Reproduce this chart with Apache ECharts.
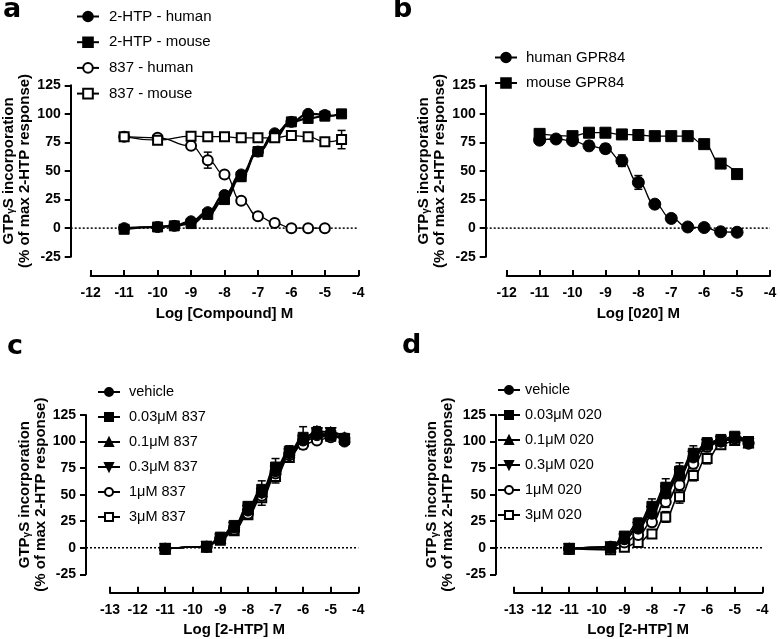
<!DOCTYPE html>
<html>
<head>
<meta charset="utf-8">
<script src="https://cdn.jsdelivr.net/npm/echarts@6/dist/echarts.min.js"></script>
<style>
  html, body { margin: 0; padding: 0; background: #fff; }
  #chart { width: 780px; height: 639px; }
</style>
</head>
<body>
<div id="chart"></div>
<script>
// ---- panel a : 2-HTP / 837 ----
const xHtp = [-11, -10, -9.5, -9, -8.5, -8, -7.5, -7, -6.5, -6, -5.5, -5, -4.5];
const htpHuman = [0, 1, 2, 6, 14, 29, 47, 67, 83, 93, 100, 99];
const htpHumanErr = [0, 0, 0, 1, 2, 3, 3, 2, 2, 1, 1, 1];
const htpMouse = [-1, 1, 2, 4, 12, 25, 45, 67, 80, 93, 96, 98, 100];
const htpMouseErr = [0, 0, 0, 1, 2, 3, 4, 2, 2, 1, 1, 1, 1];
const x837 = [-11, -10, -9, -8.5, -8, -7.5, -7, -6.5, -6, -5.5, -5, -4.5];
const h837Human = [80, 79, 72, 59.5, 47, 24, 10.5, 4.5, 0, 0, 0];
const h837HumanErr = [0, 0, 2, 7, 2, 2, 1, 1, 0, 0, 0];
const m837Mouse = [80, 77, 80.5, 80, 80, 79, 79, 79, 81, 80, 75.5, 77.5];
const m837MouseErr = [1, 1, 1, 1, 1, 1, 1, 1, 1, 1, 1, 8];

// ---- panel b : 020 ----
const xB_human = [-11, -10.5, -10, -9.5, -9, -8.5, -8, -7.5, -7, -6.5, -6, -5.5, -5];
const bHuman = [77, 78, 76.5, 72, 69.5, 59, 40, 21, 8.5, 1, 0.5, -3.2, -3.6];
const bHumanErr = [1.5, 0, 1.5, 4, 4, 5, 6, 2, 1, 0, 0, 0, 0];
const xB_mouse = [-11, -10, -9.5, -9, -8.5, -8, -7.5, -7, -6.5, -6, -5.5, -5];
const bMouse = [82.5, 80.5, 83.5, 83.5, 82, 81.5, 80.5, 80.5, 80.5, 73.5, 56.5, 47.3];
const bMouseErr = [1, 1, 1, 1, 1, 1, 1, 1, 1, 1, 1, 1];

// ---- panel c / d : 2-HTP with antagonist ----
const xHtp2 = [-11, -9.5, -9, -8.5, -8, -7.5, -7, -6.5, -6, -5.5, -5, -4.5];
const cNames = ['vehicle', '0.03μM 837', '0.1μM 837', '0.3μM 837', '1μM 837', '3μM 837'];
const cValues = [
  [-1, 1, 9, 19, 35, 52, 72, 89, 101, 106, 106, 100],
  [-1, 1, 10, 21, 39, 55, 76, 91, 104, 108, 106, 103],
  [-1, 1, 9, 20, 37, 53, 74, 90, 103, 110, 109, 104],
  [-1, 1, 8, 19, 35, 51, 72, 88, 101, 108, 108, 102],
  [-1, 1, 8, 17, 32, 49, 70, 87, 97, 101, 104, 103],
  [-1, 1, 7, 16, 31, 47, 67, 85, 100, 104, 105, 102]
];
const cErr = [
  [1, 1, 2, 3, 4, 5, 5, 4, 4, 4, 3, 3],
  [1, 1, 2, 3, 4, 8, 8, 5, 10, 5, 5, 3],
  [1, 1, 2, 3, 4, 5, 5, 4, 4, 4, 4, 3],
  [1, 1, 2, 3, 4, 5, 5, 4, 4, 4, 4, 3],
  [1, 1, 2, 3, 4, 5, 5, 4, 4, 3, 3, 3],
  [1, 1, 2, 3, 4, 7, 6, 4, 4, 4, 4, 3]
];
const dNames = ['vehicle', '0.03μM 020', '0.1μM 020', '0.3μM 020', '1μM 020', '3μM 020'];
const dValues = [
  [-1, 1, 8, 18, 32, 51, 68, 85, 97, 100, 103, 98],
  [-1, 0, 11, 23, 39, 57, 72, 89, 99, 102, 105, 100],
  [-1, 1, 9, 20, 36, 54, 70, 87, 98, 101, 104, 99],
  [-1, 0.5, 8, 19, 34, 53, 69, 86, 97, 100, 103, 98],
  [-1, 0, 5, 12, 24, 43, 59, 79, 95, 100, 103, 99],
  [-1, -2, 0.5, 5, 13, 29, 48, 68, 84, 97, 101, 100]
];
const dErr = [
  [1, 1, 2, 3, 5, 6, 6, 5, 4, 3, 3, 3],
  [1, 1, 3, 5, 7, 8, 8, 7, 4, 4, 3, 3],
  [1, 1, 2, 4, 6, 7, 7, 6, 4, 3, 3, 3],
  [1, 1, 2, 3, 5, 6, 6, 5, 4, 3, 3, 3],
  [1, 1, 2, 3, 4, 5, 5, 4, 4, 3, 3, 3],
  [1, 1, 2, 3, 4, 5, 6, 5, 5, 4, 3, 3]
];

const yTicks = { min: -25, max: 125, interval: 25 };
const xRanges = [[-12, -4], [-12, -4], [-13, -4], [-13, -4]];
const xNames = ['Log [Compound] M', 'Log [020] M', 'Log [2-HTP] M', 'Log [2-HTP] M'];

const FONT = 'Liberation Sans, Arial, sans-serif';

// panel geometry (pixels): y-axis line x, x-axis left/right ends, plot top/height
const panels = [
  { yAxisX: 70.7, xLeft: 90.7, xRight: 358.3, top: 85.3, height: 171.4, xOffset: 19.3, nameGap: 38 },
  { yAxisX: 485.7, xLeft: 506.7, xRight: 770, top: 85.3, height: 171.4, xOffset: 19.3, nameGap: 38 },
  { yAxisX: 86, xLeft: 110, xRight: 358.3, top: 415, height: 159.3, xOffset: 18.5, nameGap: 31.5 },
  { yAxisX: 496, xLeft: 514, xRight: 762.3, top: 415, height: 159.3, xOffset: 18.5, nameGap: 40 }
];

// x value at the y axis line, so the data grid can start there
const dataXMin = panels.map((p, i) => {
  const [lo, hi] = xRanges[i];
  const ppu = (p.xRight - p.xLeft) / (hi - lo);
  return lo - (p.xLeft - p.yAxisX) / ppu;
});

// symbol styles
const filledCircle = { symbol: 'circle', symbolSize: 11, itemStyle: { color: '#000', borderColor: '#000', borderWidth: 1 } };
const filledSquare = { symbol: 'rect', symbolSize: 10, itemStyle: { color: '#000', borderColor: '#000', borderWidth: 1 } };
const openCircle = { symbol: 'circle', symbolSize: 10, itemStyle: { color: '#fff', borderColor: '#000', borderWidth: 2 } };
const openSquare = { symbol: 'rect', symbolSize: 9, itemStyle: { color: '#fff', borderColor: '#000', borderWidth: 2 } };
const triUp = { symbol: 'triangle', symbolSize: 11, itemStyle: { color: '#000', borderColor: '#000', borderWidth: 1 } };
const triDown = { symbol: 'triangle', symbolSize: 11, symbolRotate: 180, itemStyle: { color: '#000', borderColor: '#000', borderWidth: 1 } };
const cdStyles = [filledCircle, filledSquare, triUp, triDown, openCircle, openSquare];

function pairs(xs, ys) {
  return ys.map((v, i) => [xs[i], v]);
}

function errData(xs, ys, errs) {
  const out = [];
  ys.forEach((v, i) => {
    if (errs[i] > 0) out.push([xs[i], v - errs[i], v + errs[i]]);
  });
  return out;
}

function errorBarItem(params, api) {
  const x = api.value(0);
  const top = api.coord([x, api.value(2)]);
  const bot = api.coord([x, api.value(1)]);
  const w = 4;
  const st = { stroke: '#000', lineWidth: 1.5 };
  return {
    type: 'group',
    children: [
      { type: 'line', shape: { x1: top[0], y1: top[1], x2: bot[0], y2: bot[1] }, style: st },
      { type: 'line', shape: { x1: top[0] - w, y1: top[1], x2: top[0] + w, y2: top[1] }, style: st },
      { type: 'line', shape: { x1: bot[0] - w, y1: bot[1], x2: bot[0] + w, y2: bot[1] }, style: st }
    ]
  };
}

function curve(name, idx, xs, ys, style, width, z) {
  return Object.assign({
    name: name,
    type: 'line',
    xAxisIndex: idx,
    yAxisIndex: idx,
    data: pairs(xs, ys),
    smooth: 0.5,
    smoothMonotone: 'x',
    lineStyle: { color: '#000', width: width },
    z: z || 3
  }, style);
}

function errSeries(idx, data) {
  return {
    type: 'custom',
    xAxisIndex: idx,
    yAxisIndex: idx,
    renderItem: errorBarItem,
    encode: { x: 0, y: [1, 2] },
    data: data,
    silent: true,
    z: 2
  };
}

// dotted zero line from the y axis to the right end
function zeroLine(idx) {
  return {
    type: 'line',
    xAxisIndex: idx,
    yAxisIndex: idx,
    data: [[dataXMin[idx], 0], [xRanges[idx][1], 0]],
    symbol: 'none',
    silent: true,
    lineStyle: { color: '#000', width: 1.5, type: [2, 2] },
    z: 1
  };
}

const axisLineStyle = { color: '#000', width: 2 };
const tickLabel = { color: '#000', fontFamily: FONT, fontWeight: 'bold', fontSize: 14 };

// grids 0-3 hold the data (start at the y axis), grids 4-7 carry the detached x axes
const grids = panels.map(p => ({
  left: p.yAxisX, top: p.top, width: p.xRight - p.yAxisX, height: p.height,
  containLabel: false, outerBoundsMode: 'none'
})).concat(panels.map(p => ({
  left: p.xLeft, top: p.top, width: p.xRight - p.xLeft, height: p.height,
  containLabel: false, outerBoundsMode: 'none'
})));

const xAxes = panels.map((p, i) => ({
  type: 'value',
  gridIndex: i,
  min: dataXMin[i],
  max: xRanges[i][1],
  show: false
})).concat(panels.map((p, i) => ({
  type: 'value',
  gridIndex: i + 4,
  min: xRanges[i][0],
  max: xRanges[i][1],
  interval: 1,
  position: 'bottom',
  offset: p.xOffset,
  axisLine: { show: true, onZero: false, lineStyle: axisLineStyle },
  axisTick: { show: true, inside: true, length: 6, lineStyle: axisLineStyle },
  axisLabel: Object.assign({ margin: 10 }, tickLabel),
  splitLine: { show: false },
  name: xNames[i],
  nameLocation: 'middle',
  nameGap: 30,
  nameTextStyle: { color: '#000', fontFamily: FONT, fontWeight: 'bold', fontSize: 15 }
})));

const yAxes = panels.map((p, i) => ({
  type: 'value',
  gridIndex: i,
  min: yTicks.min,
  max: yTicks.max,
  interval: yTicks.interval,
  position: 'left',
  axisLine: { show: true, onZero: false, lineStyle: axisLineStyle },
  axisTick: { show: true, length: 6, lineStyle: axisLineStyle },
  axisLabel: Object.assign({ margin: 10 }, tickLabel),
  splitLine: { show: false },
  name: 'GTP{sub|γ}S incorporation\n(% of max 2-HTP response)',
  nameLocation: 'middle',
  nameRotate: 90,
  nameGap: p.nameGap,
  nameTextStyle: {
    color: '#000', fontFamily: FONT, fontWeight: 'bold', fontSize: 15, lineHeight: 16,
    rich: { sub: { color: '#000', fontFamily: FONT, fontWeight: 'bold', fontSize: 10, lineHeight: 16, verticalAlign: 'bottom' } }
  }
})).concat(panels.map((p, i) => ({
  type: 'value', gridIndex: i + 4, min: 0, max: 1, show: false
})));

function legendAt(left, top, names, fontSize, itemH, gap, pad) {
  return {
    orient: 'vertical',
    left: left,
    top: top,
    padding: 0,
    itemWidth: 22,
    itemHeight: itemH,
    itemGap: gap,
    selectedMode: false,
    formatter: name => '{g|}' + name,
    textStyle: { color: '#000', fontFamily: FONT, fontSize: fontSize, rich: { g: { width: pad } } },
    data: names
  };
}

const aNames = ['2-HTP - human', '2-HTP - mouse', '837 - human', '837 - mouse'];
const bNames = ['human GPR84', 'mouse GPR84'];

const series = [];
for (let i = 0; i < 4; i++) series.push(zeroLine(i));

// panel a
series.push(errSeries(0, [].concat(
  errData(xHtp, htpHuman, htpHumanErr),
  errData(xHtp, htpMouse, htpMouseErr),
  errData(x837, h837Human, h837HumanErr),
  errData(x837, m837Mouse, m837MouseErr)
)));
series.push(curve(aNames[0], 0, xHtp, htpHuman, filledCircle, 2.2));
series.push(curve(aNames[1], 0, xHtp, htpMouse, filledSquare, 2.2));
series.push(curve(aNames[2], 0, x837, h837Human, openCircle, 1.3));
series.push(curve(aNames[3], 0, x837, m837Mouse, openSquare, 1.3));

// panel b
series.push(errSeries(1, [].concat(
  errData(xB_human, bHuman, bHumanErr),
  errData(xB_mouse, bMouse, bMouseErr)
)));
series.push(curve(bNames[0], 1, xB_human, bHuman, Object.assign({}, filledCircle, { symbolSize: 12 }), 1.3));
series.push(curve(bNames[1], 1, xB_mouse, bMouse, Object.assign({}, filledSquare, { symbolSize: 11 }), 1.3));

// panels c and d: the vehicle sits on top, the highest antagonist dose underneath
let cErrAll = [], dErrAll = [];
for (let k = 0; k < 6; k++) {
  cErrAll = cErrAll.concat(errData(xHtp2, cValues[k], cErr[k]));
  dErrAll = dErrAll.concat(errData(xHtp2, dValues[k], dErr[k]));
}
series.push(errSeries(2, cErrAll));
series.push(errSeries(3, dErrAll));
for (let k = 0; k < 6; k++) {
  series.push(curve(cNames[k], 2, xHtp2, cValues[k], cdStyles[k], 1.6, 9 - k));
}
for (let k = 0; k < 6; k++) {
  series.push(curve(dNames[k], 3, xHtp2, dValues[k], cdStyles[k], 1.6, 9 - k));
}

const panelTitle = (text, left, top) => ({
  text: text, left: left, top: top, padding: 0,
  textStyle: { color: '#000', fontFamily: 'DejaVu Sans', fontWeight: 'bold', fontSize: 27 }
});

const chart = echarts.init(document.getElementById('chart'), null, { renderer: 'canvas' });
chart.setOption({
  animation: false,
  backgroundColor: '#fff',
  title: [
    panelTitle('a', 3, -4),
    panelTitle('b', 393, -4),
    panelTitle('c', 7, 333),
    panelTitle('d', 402, 332)
  ],
  legend: [
    legendAt(76, 9, aNames, 15, 12, 10.7, 5),
    legendAt(494, 50, bNames, 15, 12, 10.5, 4),
    legendAt(97, 384.5, cNames, 14.5, 10, 10, 4),
    legendAt(497, 382.5, dNames, 14.5, 10, 10, 0)
  ],
  grid: grids,
  xAxis: xAxes,
  yAxis: yAxes,
  series: series
});
</script>
</body>
</html>
